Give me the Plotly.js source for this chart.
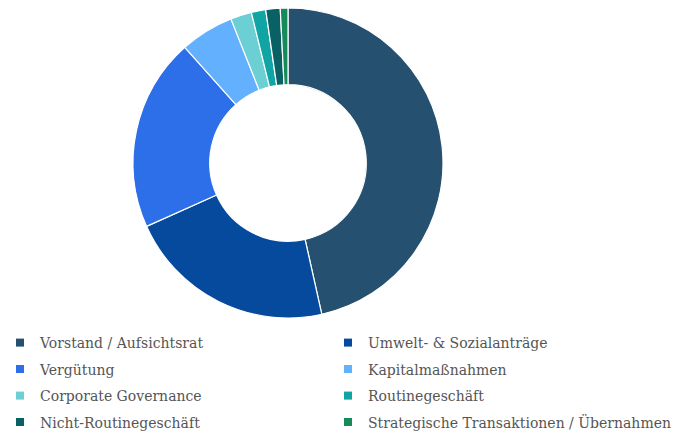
<!DOCTYPE html>
<html>
<head>
<meta charset="utf-8">
<script src="https://cdn.plot.ly/plotly-3.0.1.min.js"></script>
<style>html,body{margin:0;padding:0;background:#fff;}#chart{width:682px;height:436px;}</style>
</head>
<body>
<div id="chart"></div>
<script>
var categories = [
  "Vorstand / Aufsichtsrat",
  "Umwelt- & Sozialanträge",
  "Vergütung",
  "Kapitalmaßnahmen",
  "Corporate Governance",
  "Routinegeschäft",
  "Nicht-Routinegeschäft",
  "Strategische Transaktionen / Übernahmen"
];
var shares = [46.5, 21.8, 20.1, 5.6, 2.2, 1.5, 1.5, 0.8];
var colors = ["#26506f", "#064a9e", "#2c6fe8", "#63b0ff", "#6bcfd3", "#10a4a4", "#0a6165", "#178a5a"];

var W = 682, H = 436;
var cx = 288, cy = 163, R = 155;

var pie = {
  type: "pie",
  labels: categories,
  values: shares,
  sort: false,
  direction: "clockwise",
  rotation: 0,
  hole: 0.505,
  textinfo: "none",
  hoverinfo: "label+percent",
  showlegend: false,
  marker: { colors: colors, line: { color: "#ffffff", width: 1.2 } },
  domain: {
    x: [(cx - R) / W, (cx + R) / W],
    y: [(H - (cy + R)) / H, (H - (cy - R)) / H]
  }
};

var rowCenters = [343, 369.5, 396, 422.5];
var colLeft = [0, 328];

var layout = {
  width: W,
  height: H,
  margin: { l: 0, r: 0, t: 0, b: 0, autoexpand: false },
  paper_bgcolor: "#ffffff",
  plot_bgcolor: "#ffffff",
  showlegend: true,
  xaxis: { visible: false, fixedrange: true },
  yaxis: { visible: false, fixedrange: true }
};

var traces = [pie];
categories.forEach(function (name, i) {
  var id = i === 0 ? "legend" : "legend" + (i + 1);
  traces.push({
    type: "scatter",
    mode: "markers",
    x: [null],
    y: [null],
    name: name,
    showlegend: true,
    hoverinfo: "skip",
    legend: id,
    marker: { symbol: "square", size: 8, color: colors[i] }
  });
  layout[id] = {
    orientation: "h",
    x: colLeft[i % 2] / W,
    xanchor: "left",
    y: (H - rowCenters[Math.floor(i / 2)]) / H,
    yanchor: "middle",
    bgcolor: "rgba(0,0,0,0)",
    font: { family: "DejaVu Serif, serif", size: 14, color: "#555555" }
  };
});

Plotly.newPlot("chart", traces, layout, { displayModeBar: false, staticPlot: true });
</script>
</body>
</html>
